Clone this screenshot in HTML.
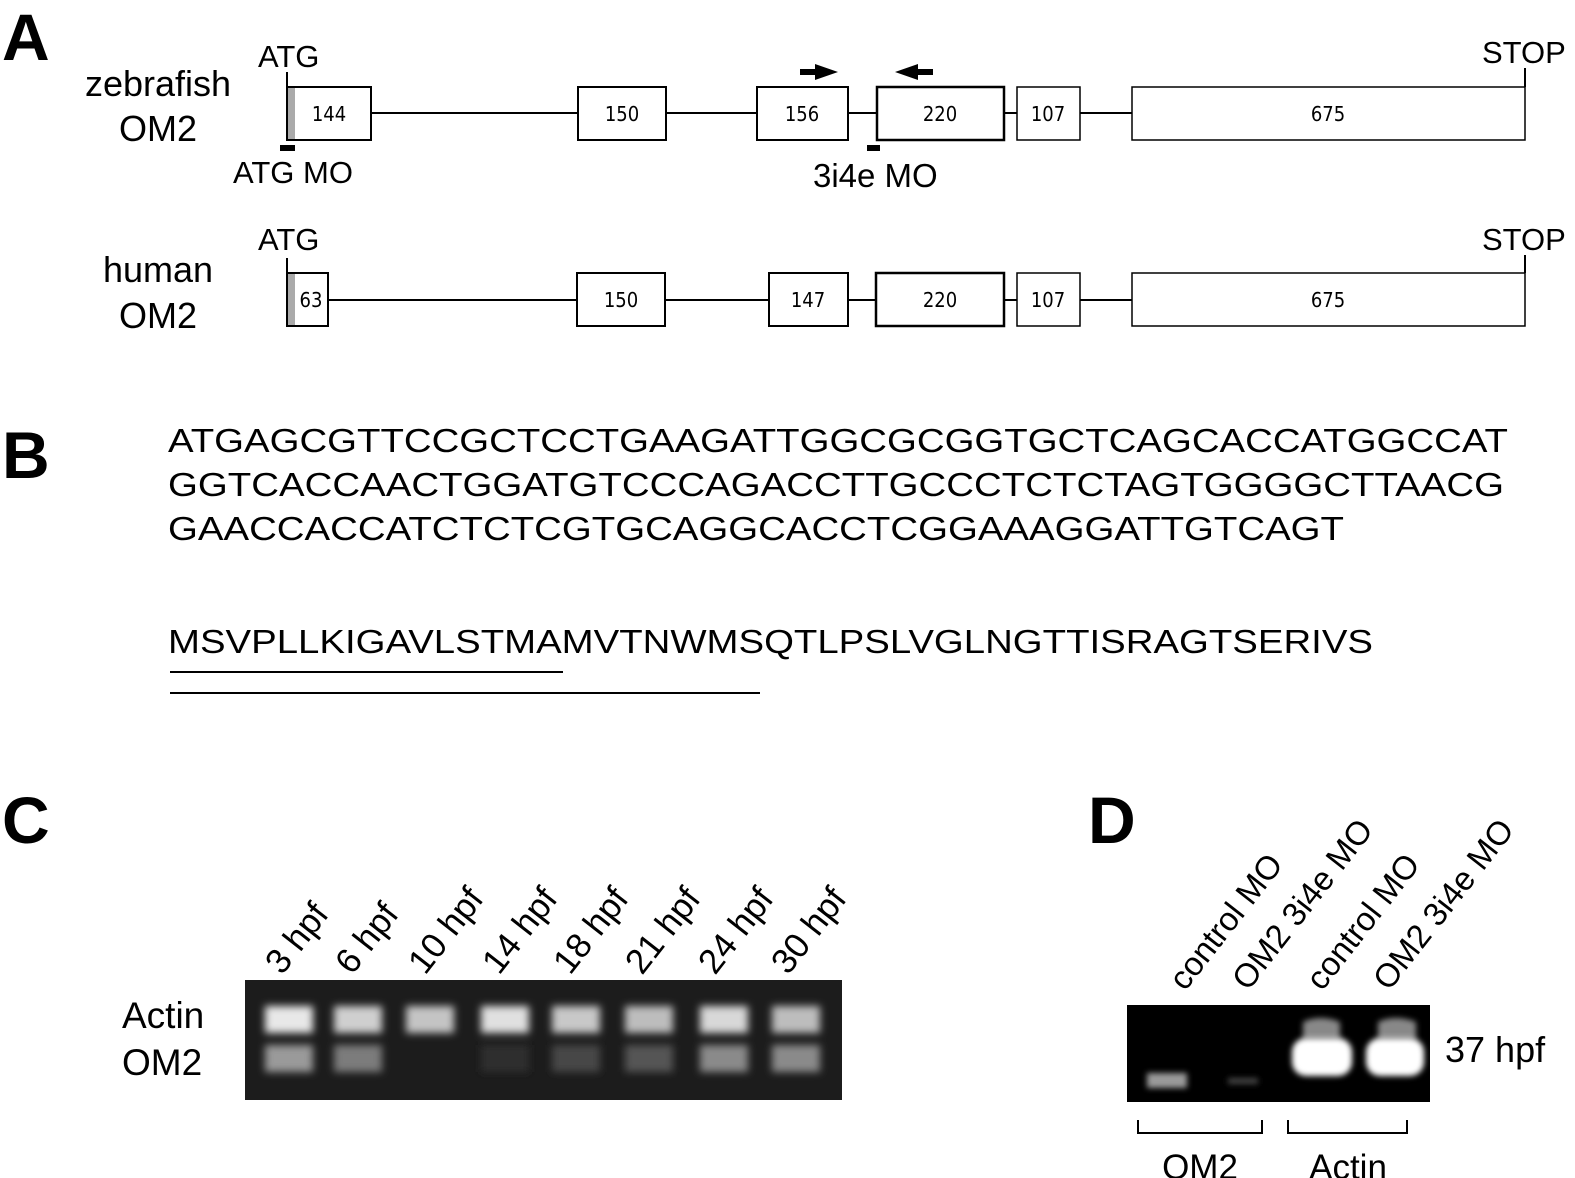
<!DOCTYPE html>
<html><head><style>
html,body{margin:0;padding:0;background:#fff;}
svg{display:block;font-family:"Liberation Sans",sans-serif;}
.mono{font-family:"DejaVu Sans Condensed","DejaVu Sans",sans-serif;}
</style></head><body>
<svg width="1575" height="1178" viewBox="0 0 1575 1178" xmlns="http://www.w3.org/2000/svg">
<defs>
<filter id="b" x="-50%" y="-50%" width="200%" height="200%"><feGaussianBlur stdDeviation="4"/></filter>
<filter id="b2" x="-50%" y="-50%" width="200%" height="200%"><feGaussianBlur stdDeviation="3"/></filter>
</defs>
<g font-weight="bold" font-size="66">
<text x="2" y="60">A</text><text x="2" y="478">B</text><text x="2" y="843">C</text><text x="1088" y="843">D</text>
</g>
<g font-size="36" text-anchor="middle"><text x="158" y="96">zebrafish</text><text x="158" y="141">OM2</text>
<text x="158" y="282">human</text><text x="158" y="328">OM2</text></g>
<g font-size="31"><text x="258" y="67">ATG</text><text x="1482" y="63">STOP</text><text x="258" y="250">ATG</text><text x="1482" y="250">STOP</text>
<text x="233" y="183">ATG MO</text><text x="813" y="187" font-size="33">3i4e MO</text></g>
<g stroke="#000" stroke-width="2" fill="#fff">
<line x1="371" y1="113" x2="1132" y2="113"/>
<line x1="287" y1="72" x2="287" y2="87"/><line x1="1525" y1="68" x2="1525" y2="87"/>
<rect x="287" y="87" width="84" height="53"/>
<rect x="578" y="87" width="88" height="53"/>
<rect x="757" y="87" width="91" height="53"/>
<rect x="877" y="87" width="127" height="53" stroke-width="2.5"/>
<rect x="1017" y="87" width="63" height="53" stroke-width="1.5"/>
<rect x="1132" y="87" width="393" height="53" stroke-width="1.5"/>
<line x1="328" y1="300" x2="1132" y2="300"/>
<line x1="287" y1="258" x2="287" y2="273"/><line x1="1525" y1="255" x2="1525" y2="273"/>
<rect x="287" y="273" width="41" height="53"/>
<rect x="577" y="273" width="88" height="53"/>
<rect x="769" y="273" width="79" height="53"/>
<rect x="876" y="273" width="128" height="53" stroke-width="2.5"/>
<rect x="1017" y="273" width="63" height="53" stroke-width="1.5"/>
<rect x="1132" y="273" width="393" height="53" stroke-width="1.5"/>
</g>
<rect x="288" y="88" width="7" height="51" fill="#aaa"/>
<rect x="288" y="274" width="7" height="51" fill="#aaa"/>
<rect x="280" y="145" width="15" height="6"/><rect x="867" y="145" width="13" height="6"/>
<polygon points="800,69 815,69 815,64 838,72 815,80 815,75 800,75"/>
<polygon points="933,69 918,69 918,64 895,72 918,80 918,75 933,75"/>
<g class="mono" font-size="20" text-anchor="middle">
<text x="329" y="121">144</text><text x="622" y="121">150</text><text x="802" y="121">156</text><text x="940" y="121">220</text><text x="1048" y="121">107</text><text x="1328" y="121">675</text>
<text x="311" y="307">63</text><text x="621" y="307">150</text><text x="808" y="307">147</text><text x="940" y="307">220</text><text x="1048" y="307">107</text><text x="1328" y="307">675</text>
</g>
<g font-size="33.5">
<text x="168" y="452" textLength="1340" lengthAdjust="spacingAndGlyphs">ATGAGCGTTCCGCTCCTGAAGATTGGCGCGGTGCTCAGCACCATGGCCAT</text>
<text x="168" y="496" textLength="1336" lengthAdjust="spacingAndGlyphs">GGTCACCAACTGGATGTCCCAGACCTTGCCCTCTCTAGTGGGGCTTAACG</text>
<text x="168" y="540" textLength="1176" lengthAdjust="spacingAndGlyphs">GAACCACCATCTCTCGTGCAGGCACCTCGGAAAGGATTGTCAGT</text>
<text x="168" y="653" textLength="1205" lengthAdjust="spacingAndGlyphs">MSVPLLKIGAVLSTMAMVTNWMSQTLPSLVGLNGTTISRAGTSERIVS</text>
</g>
<line x1="170" y1="672" x2="563" y2="672" stroke="#000" stroke-width="2"/>
<line x1="170" y1="693" x2="760" y2="693" stroke="#000" stroke-width="2"/>
<g font-size="37"><text x="122" y="1028">Actin</text><text x="122" y="1075">OM2</text></g>
<g font-size="35">
<text transform="translate(282,976) rotate(-52)">3 hpf</text>
<text transform="translate(352,976) rotate(-52)">6 hpf</text>
<text transform="translate(425,976) rotate(-52)">10 hpf</text>
<text transform="translate(499,976) rotate(-52)">14 hpf</text>
<text transform="translate(570,976) rotate(-52)">18 hpf</text>
<text transform="translate(642,976) rotate(-52)">21 hpf</text>
<text transform="translate(715,976) rotate(-52)">24 hpf</text>
<text transform="translate(788,976) rotate(-52)">30 hpf</text>
</g>
<rect x="245" y="980" width="597" height="120" fill="#1c1c1c"/>
<g filter="url(#b)">
<rect x="265" y="1006" width="48" height="27" fill="#e8e8e8"/>
<rect x="334" y="1006" width="48" height="27" fill="#cfcfcf"/>
<rect x="406" y="1006" width="48" height="27" fill="#c4c4c4"/>
<rect x="481" y="1006" width="48" height="27" fill="#e0e0e0"/>
<rect x="552" y="1006" width="48" height="27" fill="#c8c8c8"/>
<rect x="625" y="1006" width="48" height="27" fill="#bdbdbd"/>
<rect x="700" y="1006" width="48" height="27" fill="#d8d8d8"/>
<rect x="772" y="1006" width="48" height="27" fill="#bdbdbd"/>
<rect x="265" y="1045" width="48" height="27" fill="#9a9a9a"/>
<rect x="334" y="1045" width="48" height="27" fill="#7c7c7c"/>
<rect x="481" y="1045" width="48" height="27" fill="#2e2e2e"/>
<rect x="552" y="1045" width="48" height="27" fill="#464646"/>
<rect x="625" y="1045" width="48" height="27" fill="#555"/>
<rect x="700" y="1045" width="48" height="27" fill="#8a8a8a"/>
<rect x="772" y="1045" width="48" height="27" fill="#8a8a8a"/>
</g>
<g font-size="33">
<text transform="translate(1185,992) rotate(-52)">control MO</text>
<text transform="translate(1248,992) rotate(-52)">OM2 3i4e MO</text>
<text transform="translate(1322,992) rotate(-52)">control MO</text>
<text transform="translate(1389,992) rotate(-52)">OM2 3i4e MO</text>
</g>
<rect x="1127" y="1005" width="303" height="97" fill="#000"/>
<g filter="url(#b2)">
<rect x="1147" y="1073" width="40" height="15" fill="#9a9a9a"/>
<rect x="1228" y="1078" width="30" height="6" fill="#444"/>
<path d="M1303,1022 Q1320,1014 1340,1022 L1340,1040 L1303,1040Z" fill="#888"/>
<path d="M1378,1022 Q1395,1014 1416,1022 L1416,1040 L1378,1040Z" fill="#888"/>
</g>
<g filter="url(#b2)">
<rect x="1292" y="1038" width="60" height="38" rx="14" fill="#fff"/>
<rect x="1366" y="1038" width="58" height="38" rx="14" fill="#fff"/>
</g>
<text x="1445" y="1062" font-size="36">37 hpf</text>
<g stroke="#000" stroke-width="2" fill="none">
<polyline points="1138,1120 1138,1133 1262,1133 1262,1120"/>
<polyline points="1288,1120 1288,1133 1407,1133 1407,1120"/>
</g>
<g font-size="35" text-anchor="middle"><text x="1200" y="1179">OM2</text><text x="1348" y="1179">Actin</text></g>
</svg>
</body></html>
